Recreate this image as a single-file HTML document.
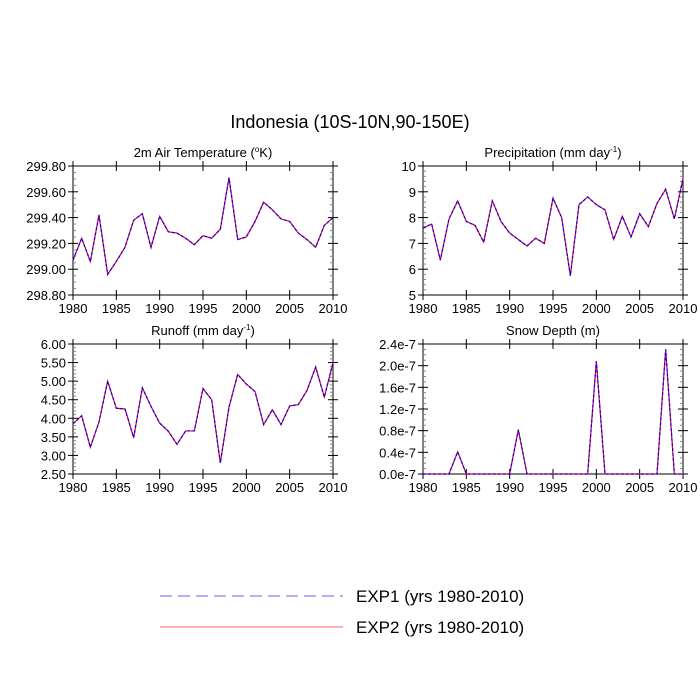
<!DOCTYPE html>
<html><head><meta charset="utf-8"><style>
body{margin:0;background:#fff}
svg{display:block;font-family:"Liberation Sans",sans-serif}
</style></head><body>
<svg id="s" width="700" height="700" viewBox="0 0 700 700">
<rect width="700" height="700" fill="#fff"/>
<text x="350" y="128" font-size="18" text-anchor="middle">Indonesia (10S-10N,90-150E)</text>
<g>
<line x1="160" y1="596" x2="343" y2="596" stroke="#6060ff" stroke-width="1" stroke-dasharray="12,6"/>
<text x="356" y="602" font-size="17">EXP1 (yrs 1980-2010)</text>
<line x1="160" y1="627" x2="343" y2="627" stroke="#ff6060" stroke-width="1"/>
<text x="356" y="633" font-size="17">EXP2 (yrs 1980-2010)</text>
</g>
</svg>
<script>
const years=[];for(let y=1980;y<=2010;y++)years.push(y);
const xTicks=[1980,1985,1990,1995,2000,2005,2010];
const tempValues=[299.07,299.24,299.06,299.42,298.96,299.06,299.17,299.38,299.43,299.17,299.41,299.29,299.28,299.24,299.19,299.26,299.24,299.31,299.71,299.23,299.25,299.37,299.52,299.46,299.39,299.37,299.28,299.23,299.17,299.34,299.40];
const precipValues=[7.6,7.75,6.35,7.95,8.65,7.85,7.7,7.05,8.65,7.85,7.4,7.15,6.9,7.2,7.0,8.75,8.0,5.75,8.5,8.8,8.5,8.3,7.15,8.05,7.25,8.15,7.65,8.55,9.1,7.95,9.5];
const runoffValues=[3.85,4.07,3.22,3.9,5.0,4.27,4.25,3.48,4.82,4.32,3.87,3.65,3.3,3.66,3.66,4.8,4.5,2.8,4.3,5.18,4.92,4.72,3.83,4.23,3.83,4.33,4.37,4.75,5.38,4.57,5.5];
const snowValues=[0,0,0,0,0.41,0,0,0,0,0,0,0.82,0,0,0,0,0,0,0,0,2.08,0,0,0,0,0,0,0,2.3,0,0];
const tempTicks=[298.8,299.0,299.2,299.4,299.6,299.8];
const precipTicks=[5,6,7,8,9,10];
const runoffTicks=[2.5,3.0,3.5,4.0,4.5,5.0,5.5,6.0];
const snowTicks=[0,0.4,0.8,1.2,1.6,2.0,2.4];
const panels=[
 {name:'temperature',title:'2m Air Temperature (',sup:'o',after:'K)',x0:73,x1:333,y0:166,y1:295,vals:tempValues,ticks:tempTicks,fmt:v=>v.toFixed(2),minor:4},
 {name:'precipitation',title:'Precipitation (mm day',sup:'-1',after:')',x0:423,x1:683,y0:166,y1:295,vals:precipValues,ticks:precipTicks,fmt:v=>String(v),minor:5},
 {name:'runoff',title:'Runoff (mm day',sup:'-1',after:')',x0:73,x1:333,y0:344,y1:474,vals:runoffValues,ticks:runoffTicks,fmt:v=>v.toFixed(2),minor:5},
 {name:'snow-depth',title:'Snow Depth (m)',sup:'',after:'',x0:423,x1:683,y0:344,y1:474,vals:snowValues,ticks:snowTicks,fmt:v=>v.toFixed(1)+'e-7',minor:4}
];
const NS='http://www.w3.org/2000/svg';
const svg=document.getElementById('s');
function mk(t,a,p){const e=document.createElementNS(NS,t);for(const k in a)e.setAttribute(k,a[k]);(p||svg).appendChild(e);return e;}
panels.forEach(P=>{
 const g=mk('g',{});
 
 
 const lo=P.ticks[0],hi=P.ticks[P.ticks.length-1];
 const xs=v=>P.x0+(v-1980)/30*(P.x1-P.x0);
 const ys=v=>P.y1-(v-lo)/(hi-lo)*(P.y1-P.y0);
 const t=mk('text',{x:(P.x0+P.x1)/2,y:P.y0-9,'font-size':'13','text-anchor':'middle'},g);
 
 
 if(P.sup){
  t.textContent=P.title;
  const s=mk('tspan',{'font-size':'8',dy:'-5'},t);s.textContent=P.sup;
  const a=mk('tspan',{'dy':'5'},t);a.textContent=P.after;
 } else t.textContent=P.title;
 const fr=mk('rect',{x:P.x0,y:P.y0,width:P.x1-P.x0,height:P.y1-P.y0,fill:'none',stroke:'#000','stroke-width':'1'},g);
 
 
 xTicks.forEach(v=>{
  const x=xs(v);
  mk('line',{x1:x,x2:x,y1:P.y1-5,y2:P.y1+5,stroke:'#000'},g);
  mk('line',{x1:x,x2:x,y1:P.y0-5,y2:P.y0+5,stroke:'#000'},g);
  const l=mk('text',{x:x,y:P.y1+18,'font-size':'13','text-anchor':'middle'},g);
  
  
  l.textContent=v;
 });
 P.ticks.forEach((v,i)=>{
  const y=ys(v);
  mk('line',{x1:P.x0-5,x2:P.x0+5,y1:y,y2:y,stroke:'#000'},g);
  mk('line',{x1:P.x1-5,x2:P.x1+5,y1:y,y2:y,stroke:'#000'},g);
  const l=mk('text',{x:P.x0-7,y:y+5,'font-size':'13','text-anchor':'end'},g);
  
  
  l.textContent=P.fmt(v);
  if(i<P.ticks.length-1){
   const step=(P.ticks[i+1]-v)/P.minor;
   for(let k=1;k<P.minor;k++){const yy=ys(v+k*step);
    mk('line',{x1:P.x0,x2:P.x0+3,y1:yy,y2:yy,stroke:'#888'},g);
    mk('line',{x1:P.x1-3,x2:P.x1,y1:yy,y2:yy,stroke:'#888'},g);}
  }
 });
 const pts=P.vals.map((v,i)=>xs(years[i])+','+ys(v)).join(' ');
 const r=mk('polyline',{points:pts,fill:'none',stroke:'#ff0000','stroke-width':'1.2'},g);
 
 
 const b=mk('polyline',{points:pts,fill:'none',stroke:'#0000ff','stroke-width':'1.2','stroke-dasharray':'3,2'},g);
 
 
});
</script>
</body></html>
